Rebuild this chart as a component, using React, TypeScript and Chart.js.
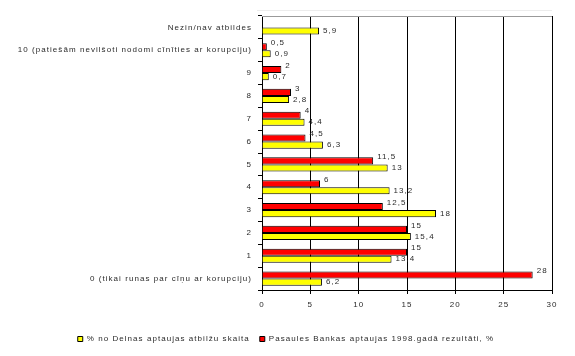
import React, { useEffect, useRef } from "react";
import { Chart, registerables } from "chart.js";

Chart.register(...registerables);

const categories = [
  "Nezin/nav atbildes",
  "10 (patiešām nevilšoti nodomi cīnīties ar korupciju)",
  "9",
  "8",
  "7",
  "6",
  "5",
  "4",
  "3",
  "2",
  "1",
  "0 (tikai runas par cīņu ar korupciju)",
];

const worldBank: (number | null)[] = [null, 0.5, 2, 3, 4, 4.5, 11.5, 6, 12.5, 15, 15, 28];
const delna: (number | null)[] = [5.9, 0.9, 0.7, 2.8, 4.4, 6.3, 13, 13.2, 18, 15.4, 13.4, 6.2];

const worldBankLabel = "Pasaules Bankas aptaujas 1998.gadā rezultāti, %";
const delnaLabel = "% no Delnas aptaujas atbilžu skaita";

const FONT = "'Liberation Sans', Arial, sans-serif";
const TEXT_COLOR = "#2a2a2a";
const SPACING = "1.05px";

const fmt = (v: number) => String(v).replace(".", ",");

const spacingPlugin = {
  id: "spacing",
  beforeUpdate(chart: any) {
    chart.ctx.letterSpacing = SPACING;
  },
  afterLayout(chart: any) {
    if (chart.legend) {
      chart.legend.left += 10;
      chart.legend.right += 10;
    }
  },
  beforeDraw(chart: any) {
    chart.ctx.letterSpacing = SPACING;
  },
};

const bordersPlugin = {
  id: "borders",
  beforeDatasetsDraw(chart: any) {
    const { ctx, chartArea } = chart;
    ctx.save();
    ctx.strokeStyle = "#9a9a9a";
    ctx.lineWidth = 1;
    ctx.beginPath();
    ctx.moveTo(chartArea.left, chartArea.top + 0.5);
    ctx.lineTo(chartArea.right, chartArea.top + 0.5);
    ctx.stroke();
    ctx.strokeStyle = "#ececec";
    ctx.beginPath();
    ctx.moveTo(chartArea.left - 5, chartArea.top - 5.5);
    ctx.lineTo(chartArea.right, chartArea.top - 5.5);
    ctx.stroke();
    ctx.restore();
  },
};

const labelsPlugin = {
  id: "valueLabels",
  afterDatasetsDraw(chart: any) {
    const { ctx } = chart;
    ctx.save();
    ctx.letterSpacing = SPACING;
    ctx.font = `8px ${FONT}`;
    ctx.fillStyle = TEXT_COLOR;
    ctx.textAlign = "left";
    ctx.textBaseline = "middle";
    chart.data.datasets.forEach((ds: any, di: number) => {
      const meta = chart.getDatasetMeta(di);
      meta.data.forEach((bar: any, i: number) => {
        const v = ds.data[i];
        if (v === null || v === undefined) return;
        const dy = di === 0 ? -4 : 0;
        ctx.fillText(fmt(v), bar.x + 4, bar.y + dy);
      });
    });
    ctx.restore();
  },
};

export default function App() {
  const ref = useRef<HTMLCanvasElement | null>(null);

  useEffect(() => {
    if (!ref.current) return;
    const chart = new Chart(ref.current, {
      type: "bar",
      data: {
        labels: categories,
        datasets: [
          {
            label: worldBankLabel,
            data: worldBank,
            backgroundColor: "#ff0000",
            borderColor: "#000000",
            borderWidth: 1,
            categoryPercentage: 0.62,
            barPercentage: 1,
          },
          {
            label: delnaLabel,
            data: delna,
            backgroundColor: "#ffff00",
            borderColor: "#000000",
            borderWidth: 1,
            categoryPercentage: 0.62,
            barPercentage: 1,
          },
        ],
      },
      options: {
        indexAxis: "y",
        animation: false,
        responsive: false,
        maintainAspectRatio: false,
        layout: { padding: { top: 16, right: 23, bottom: 3, left: 0 } },
        font: { family: FONT, size: 8 },
        color: TEXT_COLOR,
        scales: {
          x: {
            min: 0,
            max: 30,
            ticks: { stepSize: 5, color: TEXT_COLOR, padding: 6, font: { family: FONT, size: 8 } },
            grid: { color: "#000000", lineWidth: 1, tickLength: 4, drawTicks: true },
            border: { color: "#000000" },
            afterFit(scale: any) {
              scale.height = 35;
            },
          },
          y: {
            ticks: { color: TEXT_COLOR, padding: 6, font: { family: FONT, size: 8 }, autoSkip: false },
            grid: { color: "#000000", drawOnChartArea: false, drawTicks: true, tickLength: 4, offset: true },
            border: { color: "#000000" },
            afterFit(scale: any) {
              scale.width = 262;
            },
          },
        },
        plugins: {
          legend: {
            position: "bottom",
            reverse: true,
            labels: {
              boxWidth: 5,
              boxHeight: 5,
              padding: 10,
              color: TEXT_COLOR,
              font: { family: FONT, size: 8 },
            },
          },
          tooltip: { enabled: false },
        },
      },
      plugins: [spacingPlugin, bordersPlugin, labelsPlugin],
    } as any);
    return () => chart.destroy();
  }, []);

  return (
    <div style={{ position: "absolute", left: 0, top: 0, width: 575, height: 356, background: "#fff" }}>
      <canvas ref={ref} width={575} height={356} style={{ width: 575, height: 356, display: "block" }} />
    </div>
  );
}
